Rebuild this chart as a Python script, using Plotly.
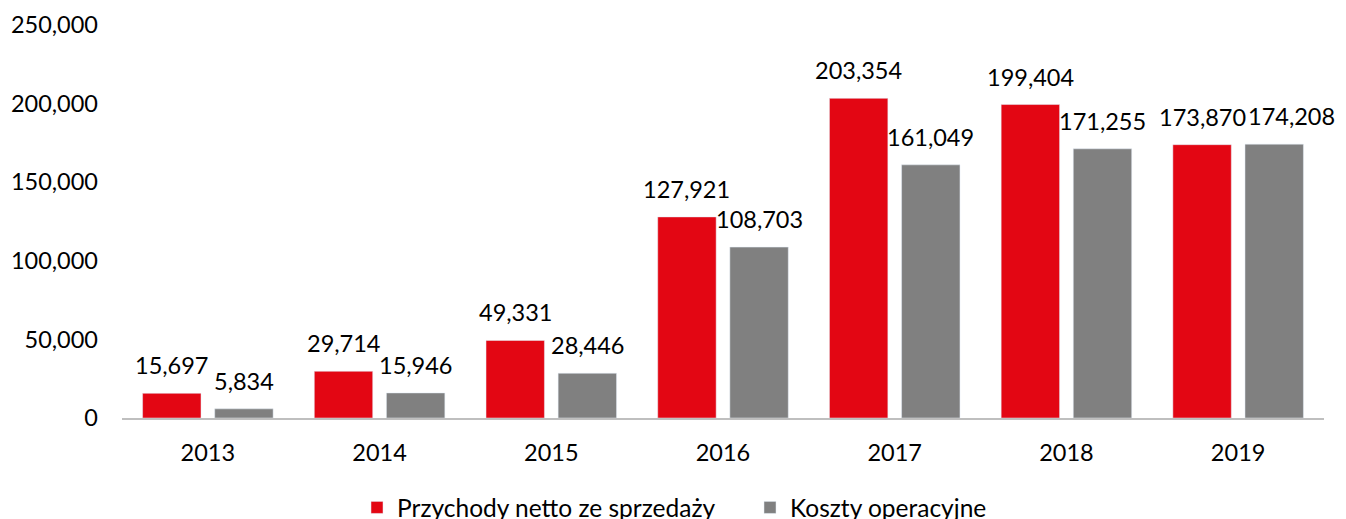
import plotly.graph_objects as go

years = ["2013", "2014", "2015", "2016", "2017", "2018", "2019"]
przychody = [15697, 29714, 49331, 127921, 203354, 199404, 173870]
koszty = [5834, 15946, 28446, 108703, 161049, 171255, 174208]
series_names = ["Przychody netto ze sprzedaży", "Koszty operacyjne"]
series_colors = ["#E30613", "#808080"]
y_ticks = [0, 50000, 100000, 150000, 200000, 250000]
y_ticktext = ["0", "50,000", "100,000", "150,000", "200,000", "250,000"]

FONT = "Lato, Calibri, Carlito, sans-serif"
FS_NUM = 23.5
FS_LEG = 24.5

# layout geometry (pixels)
W, H = 1338, 522
ML, MR, MT, MB = 114, 22, 17, 112
BARGAP = 0.16
BARGROUPGAP = 0.19
# label nudges to avoid overlapping (Excel-like placement)
label_nudge = {(1, 6): 17}

fig = go.Figure()
for name, vals, col in zip(series_names, [przychody, koszty], series_colors):
    fig.add_trace(go.Bar(x=years, y=vals, name=name, marker=dict(color=col)))

plot_w = W - ML - MR
cat_w = plot_w / len(years)
slot = cat_w * (1 - BARGAP) / 2
annotations = []
for i, vals in enumerate([przychody, koszty]):
    base_shift = (i - 0.5) * slot
    for j, v in enumerate(vals):
        # on a category axis annotations use the category's serial index
        annotations.append(dict(
            x=j, y=v, xref="x", yref="y", text=f"{v:,}", showarrow=False,
            xanchor="center", yanchor="bottom",
            xshift=base_shift + label_nudge.get((i, j), 0), yshift=12,
            font=dict(family=FONT, size=FS_NUM, color="#000000"),
        ))

fig.update_layout(
    width=W, height=H,
    margin=dict(l=ML, r=MR, t=MT, b=MB),
    paper_bgcolor="white", plot_bgcolor="white",
    barmode="group", bargap=BARGAP, bargroupgap=BARGROUPGAP,
    font=dict(family=FONT, size=FS_NUM, color="#000000"),
    annotations=annotations,
    showlegend=True,
    legend=dict(
        orientation="h", xref="container", yref="container",
        x=349 / W, xanchor="left", y=0, yanchor="bottom",
        font=dict(family=FONT, size=FS_LEG, color="#000000"),
        itemwidth=30, entrywidthmode="pixels", entrywidth=348,
    ),
    xaxis=dict(
        type="category", categoryorder="array", categoryarray=years,
        range=[-0.5, len(years) - 0.5],
        showline=True, linecolor="#BFBFBF", linewidth=1.5,
        showgrid=False, ticks="", ticklabelstandoff=13, automargin=False,
        tickfont=dict(family=FONT, size=FS_NUM, color="#000000"),
    ),
    yaxis=dict(
        range=[0, 250000], tickvals=y_ticks, ticktext=y_ticktext,
        showgrid=False, showline=False, zeroline=False, ticks="",
        ticklabelstandoff=23, automargin=False,
        tickfont=dict(family=FONT, size=FS_NUM, color="#000000"),
    ),
)

fig.write_html("out.html")
